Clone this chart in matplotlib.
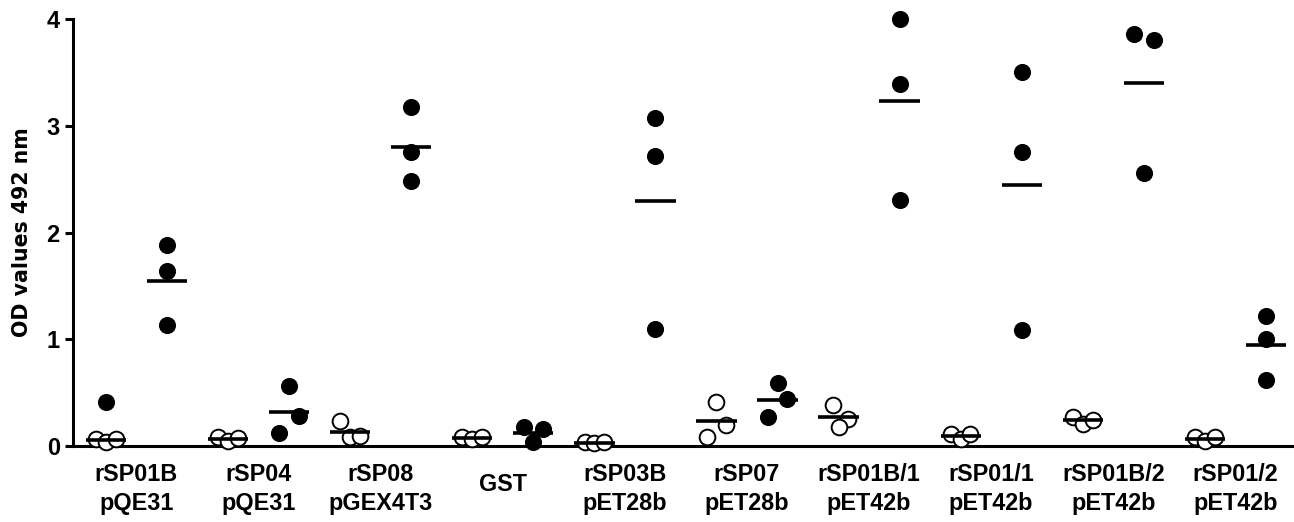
import matplotlib
matplotlib.use("Agg")
import matplotlib.pyplot as plt

plt.rcParams['font.family'] = ['Liberation Sans', 'DejaVu Sans']
plt.rcParams['font.weight'] = 'bold'

categories = ["rSP01B\npQE31", "rSP04\npQE31", "rSP08\npGEX4T3", "GST",
              "rSP03B\npET28b", "rSP07\npET28b", "rSP01B/1\npET42b",
              "rSP01/1\npET42b", "rSP01B/2\npET42b", "rSP01/2\npET42b"]

# open circles (control sera)
neg_values = [
    [0.07, 0.035, 0.065],
    [0.08, 0.045, 0.075],
    [0.23, 0.08, 0.09],
    [0.08, 0.07, 0.08],
    [0.035, 0.025, 0.035],
    [0.415, 0.20, 0.08],
    [0.38, 0.25, 0.18],
    [0.11, 0.07, 0.11],
    [0.27, 0.205, 0.245],
    [0.08, 0.045, 0.08],
]
# filled circles (immune sera)
pos_values = [
    [1.88, 1.64, 1.13],
    [0.56, 0.28, 0.12],
    [3.18, 2.75, 2.48],
    [0.18, 0.155, 0.035],
    [3.07, 2.72, 1.10],
    [0.59, 0.44, 0.275],
    [4.00, 3.39, 2.30],
    [3.50, 2.75, 1.09],
    [3.855, 3.80, 2.555],
    [1.22, 1.00, 0.62],
]
# extra filled point drawn in the control column of the first group
extra_group = [0]
extra_values = [0.415]

neg_jitter = [[-1, 0, 1], [-1, 0, 1], [-1, 0, 1], [-1, 0, 1], [-1, 0, 1],
              [0, 1, -1], [-0.6, 1, 0], [-1, 0, 1], [-1, 0, 1], [-1, 0, 1]]
pos_jitter = [[0, 0, 0], [0, 1, -1], [0, 0, 0], [-1, 1, 0], [0, 0, 0],
              [0, 1, -1], [0, 0, 0], [0, 0, 0], [-1, 1, 0], [0, 0, 0]]

ylabel = "OD values 492 nm"
yticks = [0, 1, 2, 3, 4]

fig = plt.figure(figsize=(12.94, 5.22), dpi=100)
ax = fig.add_axes([73/1294, 1 - 446/522, 1 - 73/1294, (446 - 19)/522])

step = 0.16
half = 0.33
ms = 11.3
for g, (nv, pv) in enumerate(zip(neg_values, pos_values)):
    xn = 2 * g
    xp = 2 * g + 1
    ax.plot([xn + j * step for j in neg_jitter[g]], nv, 'o', ms=ms,
            mfc='white', mec='black', mew=1.4, ls='none', clip_on=False, zorder=3)
    ax.plot([xp + j * step for j in pos_jitter[g]], pv, 'o', ms=ms,
            mfc='black', mec='black', ls='none', clip_on=False, zorder=3)
    ax.hlines(sum(nv) / len(nv), xn - half, xn + half, colors='black', lw=2.6, zorder=4)
    ax.hlines(sum(pv) / len(pv), xp - half, xp + half, colors='black', lw=2.6, zorder=4)

for g, v in zip(extra_group, extra_values):
    ax.plot([2 * g], [v], 'o', ms=ms, mfc='black', mec='black', ls='none',
            clip_on=False, zorder=3)

ax.set_xlim(-0.54, 19.46)
ax.set_ylim(0, 4)
ax.set_yticks(yticks)
ax.set_yticklabels([str(t) for t in yticks], fontsize=17, fontweight='bold')
ax.set_xticks([])
for g, lab in enumerate(categories):
    ypos = -0.1007 if '\n' in lab else -0.089
    ax.text(2 * g + 0.5, ypos, lab, transform=ax.get_xaxis_transform(),
            ha='center', va='center', fontsize=16.8, fontweight='bold',
            linespacing=1.3)

ax.spines['top'].set_visible(False)
ax.spines['right'].set_visible(False)
ax.spines['left'].set_linewidth(2.2)
ax.spines['bottom'].set_linewidth(2.2)
ax.tick_params(axis='y', length=6, width=2.2, pad=3.5)
ax.set_ylabel(ylabel, fontsize=14.8, fontweight='bold',
              family=['DejaVu Sans'])
ax.yaxis.set_label_coords(-0.0336, 0.5)

fig.savefig("out.png", dpi=100)
